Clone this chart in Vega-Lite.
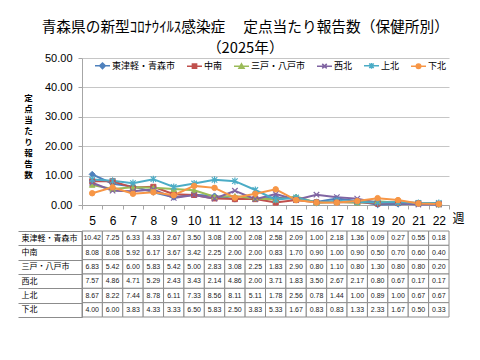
{
"$schema": "https://vega.github.io/schema/vega-lite/v6.json",
"background": "white",
"padding": {"left": 17, "top": 20, "right": 5, "bottom": 5},
"title": {"text": ["青森県の新型ｺﾛﾅｳｲﾙｽ感染症　 定点当たり報告数（保健所別）", "（2025年）"], "font": "Noto Sans CJK JP", "fontSize": 14.7, "fontWeight": "normal", "color": "#000000", "lineHeight": 21, "anchor": "middle", "offset": -4, "dx": -20},
"data": {"values": [
{"week":5,"region":"東津軽・青森市","value":10.42},{"week":6,"region":"東津軽・青森市","value":7.25},{"week":7,"region":"東津軽・青森市","value":6.33},{"week":8,"region":"東津軽・青森市","value":4.33},{"week":9,"region":"東津軽・青森市","value":2.67},{"week":10,"region":"東津軽・青森市","value":3.50},{"week":11,"region":"東津軽・青森市","value":3.08},{"week":12,"region":"東津軽・青森市","value":2.00},{"week":13,"region":"東津軽・青森市","value":2.08},{"week":14,"region":"東津軽・青森市","value":2.58},{"week":15,"region":"東津軽・青森市","value":2.09},{"week":16,"region":"東津軽・青森市","value":1.00},{"week":17,"region":"東津軽・青森市","value":2.18},{"week":18,"region":"東津軽・青森市","value":1.36},{"week":19,"region":"東津軽・青森市","value":0.09},{"week":20,"region":"東津軽・青森市","value":0.27},{"week":21,"region":"東津軽・青森市","value":0.55},{"week":22,"region":"東津軽・青森市","value":0.18},
{"week":5,"region":"中南","value":8.08},{"week":6,"region":"中南","value":8.08},{"week":7,"region":"中南","value":5.92},{"week":8,"region":"中南","value":6.17},{"week":9,"region":"中南","value":3.67},{"week":10,"region":"中南","value":3.42},{"week":11,"region":"中南","value":2.25},{"week":12,"region":"中南","value":2.00},{"week":13,"region":"中南","value":2.00},{"week":14,"region":"中南","value":0.83},{"week":15,"region":"中南","value":1.70},{"week":16,"region":"中南","value":0.90},{"week":17,"region":"中南","value":1.00},{"week":18,"region":"中南","value":0.90},{"week":19,"region":"中南","value":0.50},{"week":20,"region":"中南","value":0.70},{"week":21,"region":"中南","value":0.60},{"week":22,"region":"中南","value":0.40},
{"week":5,"region":"三戸・八戸市","value":6.83},{"week":6,"region":"三戸・八戸市","value":5.42},{"week":7,"region":"三戸・八戸市","value":6.00},{"week":8,"region":"三戸・八戸市","value":5.83},{"week":9,"region":"三戸・八戸市","value":5.42},{"week":10,"region":"三戸・八戸市","value":5.00},{"week":11,"region":"三戸・八戸市","value":2.83},{"week":12,"region":"三戸・八戸市","value":3.08},{"week":13,"region":"三戸・八戸市","value":2.25},{"week":14,"region":"三戸・八戸市","value":1.83},{"week":15,"region":"三戸・八戸市","value":2.90},{"week":16,"region":"三戸・八戸市","value":0.80},{"week":17,"region":"三戸・八戸市","value":1.10},{"week":18,"region":"三戸・八戸市","value":0.80},{"week":19,"region":"三戸・八戸市","value":1.30},{"week":20,"region":"三戸・八戸市","value":0.80},{"week":21,"region":"三戸・八戸市","value":0.80},{"week":22,"region":"三戸・八戸市","value":0.20},
{"week":5,"region":"西北","value":7.57},{"week":6,"region":"西北","value":4.86},{"week":7,"region":"西北","value":4.71},{"week":8,"region":"西北","value":5.29},{"week":9,"region":"西北","value":2.43},{"week":10,"region":"西北","value":3.43},{"week":11,"region":"西北","value":2.14},{"week":12,"region":"西北","value":4.86},{"week":13,"region":"西北","value":2.00},{"week":14,"region":"西北","value":3.71},{"week":15,"region":"西北","value":1.83},{"week":16,"region":"西北","value":3.50},{"week":17,"region":"西北","value":2.67},{"week":18,"region":"西北","value":2.17},{"week":19,"region":"西北","value":0.80},{"week":20,"region":"西北","value":0.67},{"week":21,"region":"西北","value":0.17},{"week":22,"region":"西北","value":0.17},
{"week":5,"region":"上北","value":8.67},{"week":6,"region":"上北","value":8.22},{"week":7,"region":"上北","value":7.44},{"week":8,"region":"上北","value":8.78},{"week":9,"region":"上北","value":6.11},{"week":10,"region":"上北","value":7.33},{"week":11,"region":"上北","value":8.56},{"week":12,"region":"上北","value":8.11},{"week":13,"region":"上北","value":5.11},{"week":14,"region":"上北","value":1.78},{"week":15,"region":"上北","value":2.56},{"week":16,"region":"上北","value":0.78},{"week":17,"region":"上北","value":1.44},{"week":18,"region":"上北","value":1.00},{"week":19,"region":"上北","value":0.89},{"week":20,"region":"上北","value":1.00},{"week":21,"region":"上北","value":0.67},{"week":22,"region":"上北","value":0.67},
{"week":5,"region":"下北","value":4.00},{"week":6,"region":"下北","value":6.00},{"week":7,"region":"下北","value":3.83},{"week":8,"region":"下北","value":4.33},{"week":9,"region":"下北","value":3.33},{"week":10,"region":"下北","value":6.50},{"week":11,"region":"下北","value":5.83},{"week":12,"region":"下北","value":2.50},{"week":13,"region":"下北","value":3.83},{"week":14,"region":"下北","value":5.33},{"week":15,"region":"下北","value":1.67},{"week":16,"region":"下北","value":0.83},{"week":17,"region":"下北","value":0.83},{"week":18,"region":"下北","value":1.33},{"week":19,"region":"下北","value":2.33},{"week":20,"region":"下北","value":1.67},{"week":21,"region":"下北","value":0.50},{"week":22,"region":"下北","value":0.33}
]},
"bounds": "flush",
"spacing": 26,
"vconcat": [
{
"width": 367, "height": 147,
"encoding": {
"x": {"field": "week", "type": "ordinal", "bandPosition": 0.5, "scale": {"type": "band", "paddingInner": 0, "paddingOuter": 0},
"axis": {"title": "週", "titleFont": "Noto Sans CJK JP", "titleFontSize": 12, "titleFontWeight": "normal", "titleColor": "#000000", "titleX": 376, "titleY": 13, "titleAlign": "center", "titleBaseline": "middle", "labelAngle": 0, "labelFontSize": 12, "labelColor": "#000000", "labelPadding": 6, "tickBand": "extent", "tickSize": 4, "tickColor": "#a6a6a6", "domainColor": "#a6a6a6", "grid": false}},
"y": {"field": "value", "type": "quantitative", "scale": {"domain": [0, 50], "nice": false},
"axis": {"title": ["定","点","当","た","り","報","告","数"], "titleAngle": 0, "titleFont": "Noto Sans CJK JP", "titleFontSize": 8.5, "titleFontWeight": "bold", "titleColor": "#000000", "titleLineHeight": 11, "titleX": -54, "titleY": 35, "titleAlign": "center", "titleBaseline": "top", "values": [0, 10, 20, 30, 40, 50], "format": ".2f", "labelFontSize": 11, "labelColor": "#000000", "labelPadding": 6, "tickSize": 4, "tickColor": "#a6a6a6", "domainColor": "#a6a6a6", "gridColor": "#c6c6c6"}}
},
"layer": [
{"mark": {"type": "line", "strokeWidth": 2},
"encoding": {"color": {"field": "region", "type": "nominal",
"scale": {"domain": ["東津軽・青森市","中南","三戸・八戸市","西北","上北","下北"], "range": ["#4F81BD","#C0504D","#9BBB59","#8064A2","#4BACC6","#F79646"]},
"legend": {"orient": "none", "legendX": 12, "legendY": -1, "direction": "horizontal", "title": null, "padding": 0, "labelFont": "Noto Sans CJK JP", "labelFontSize": 9, "labelColor": "#000000", "labelOffset": 1, "columnPadding": 8, "symbolSize": 225, "symbolStrokeWidth": 1.5,
"encode": {"symbols": {"update": {
"shape": {"signal": "['M-1,0L1,0M0,-0.38L0.38,0L0,0.38L-0.38,0Z','M-1,0L1,0M-0.28,-0.28L0.28,-0.28L0.28,0.28L-0.28,0.28Z','M-1,0L1,0M0,-0.32L0.34,0.28L-0.34,0.28Z','M-1,0L1,0M-0.3,-0.3L0.3,0.3M0.3,-0.3L-0.3,0.3','M-1,0L1,0M-0.3,-0.3L0.3,0.3M0.3,-0.3L-0.3,0.3M0,-0.38L0,0.38','M-1,0L1,0M0.3,0A0.3,0.3,0,1,1,-0.3,0A0.3,0.3,0,1,1,0.3,0Z'][indexof(['東津軽・青森市','中南','三戸・八戸市','西北','上北','下北'], datum.label)]"},
"fill": {"signal": "['#4F81BD','#C0504D','#9BBB59','#8064A2','#4BACC6','#F79646'][indexof(['東津軽・青森市','中南','三戸・八戸市','西北','上北','下北'], datum.label)]"},
"stroke": {"signal": "['#4F81BD','#C0504D','#9BBB59','#8064A2','#4BACC6','#F79646'][indexof(['東津軽・青森市','中南','三戸・八戸市','西北','上北','下北'], datum.label)]"},
"opacity": {"value": 1}
}}}}}}},
{"transform": [{"filter": {"field": "region", "equal": "東津軽・青森市"}}], "mark": {"type": "point", "shape": "M0,-1.1L1.1,0L0,1.1L-1.1,0Z", "size": 30, "filled": true, "fill": "#4F81BD", "stroke": "#4F81BD", "strokeWidth": 1, "opacity": 1}, "encoding": {}},
{"transform": [{"filter": {"field": "region", "equal": "中南"}}], "mark": {"type": "point", "shape": "square", "size": 26, "filled": true, "fill": "#C0504D", "stroke": "#C0504D", "strokeWidth": 1, "opacity": 1}, "encoding": {}},
{"transform": [{"filter": {"field": "region", "equal": "三戸・八戸市"}}], "mark": {"type": "point", "shape": "triangle-up", "size": 30, "filled": true, "fill": "#9BBB59", "stroke": "#9BBB59", "strokeWidth": 1, "opacity": 1}, "encoding": {}},
{"transform": [{"filter": {"field": "region", "equal": "西北"}}], "mark": {"type": "point", "shape": "M-1,-1L1,1M1,-1L-1,1", "size": 30, "filled": false, "stroke": "#8064A2", "strokeWidth": 1.2, "opacity": 1}, "encoding": {}},
{"transform": [{"filter": {"field": "region", "equal": "上北"}}], "mark": {"type": "point", "shape": "M-1,-1L1,1M1,-1L-1,1M0,-1.3L0,1.3", "size": 30, "filled": false, "stroke": "#4BACC6", "strokeWidth": 1.2, "opacity": 1}, "encoding": {}},
{"transform": [{"filter": {"field": "region", "equal": "下北"}}], "mark": {"type": "point", "shape": "circle", "size": 30, "filled": true, "fill": "#F79646", "stroke": "#F79646", "strokeWidth": 1, "opacity": 1}, "encoding": {}}
]
},
{
"width": 367, "height": 86,
"encoding": {
"x": {"field": "week", "type": "ordinal", "scale": {"type": "band", "paddingInner": 0, "paddingOuter": 0}, "axis": null}
},
"layer": [
{"mark": {"type": "rect", "fill": "white", "stroke": "#8c8c8c", "strokeWidth": 1},
"encoding": {"y": {"field": "region", "type": "nominal", "sort": ["東津軽・青森市","中南","三戸・八戸市","西北","上北","下北"], "scale": {"paddingInner": 0, "paddingOuter": 0},
"axis": {"title": null, "labelAlign": "left", "labelBaseline": "middle", "labelPadding": -3, "tickSize": 64, "tickBand": "extent", "tickColor": "#8c8c8c", "domainColor": "#8c8c8c", "labelFont": "Noto Sans CJK JP", "labelFontSize": 8, "labelColor": "#000000", "grid": false}}}},
{"mark": {"type": "text", "font": "Liberation Sans", "fontSize": 7, "color": "#222222"},
"encoding": {"y": {"field": "region", "type": "nominal", "sort": ["東津軽・青森市","中南","三戸・八戸市","西北","上北","下北"],
"axis": {"title": null, "offset": 64, "labels": false, "ticks": false, "domain": true, "domainColor": "#8c8c8c", "grid": false}},
"text": {"field": "value", "type": "quantitative", "format": ".2f"}}}
],
"resolve": {"axis": {"y": "independent"}}
}
],
"config": {"view": {"stroke": null}, "font": "Liberation Sans"}
}
